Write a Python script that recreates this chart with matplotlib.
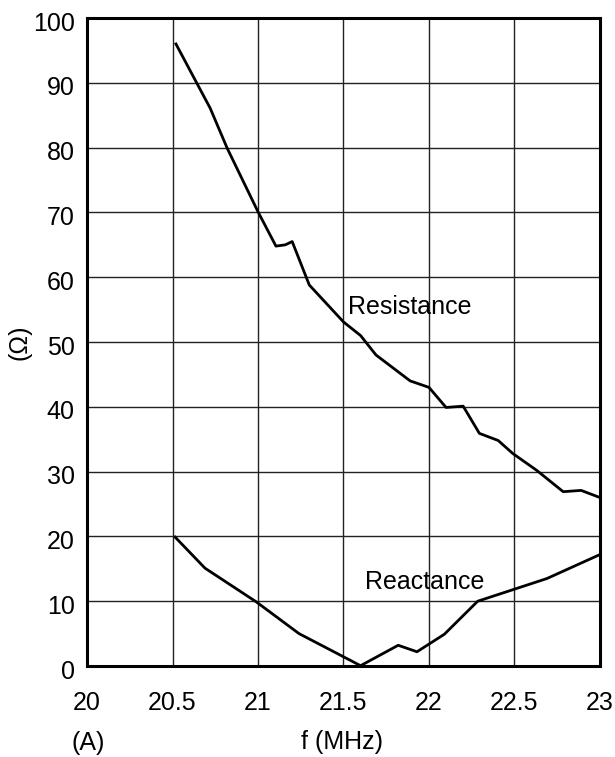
import matplotlib
matplotlib.use("Agg")
import matplotlib.pyplot as plt
import matplotlib.transforms as mtransforms

plt.rcParams["font.family"] = ["Liberation Sans", "DejaVu Sans"]

# resistance curve
res_f = [20.52, 20.72, 20.82, 21.0, 21.105, 21.16, 21.2, 21.3, 21.5, 21.6,
         21.69, 21.89, 22.0, 22.1, 22.2, 22.295, 22.405, 22.49, 22.63, 22.785, 22.89, 23.0]
res_ohm = [96.0, 86.1, 79.9, 70.1, 64.8, 65.0, 65.5, 58.8, 53.1, 51.0,
           48.0, 44.0, 43.0, 39.9, 40.1, 35.9, 34.8, 32.8, 30.2, 26.9, 27.1, 26.0]

# reactance curve
rea_f = [20.515, 20.69, 20.99, 21.24, 21.6, 21.82, 21.93, 22.09, 22.285, 22.69, 23.0]
rea_ohm = [19.9, 15.1, 9.9, 5.0, 0.05, 3.2, 2.2, 4.9, 10.0, 13.5, 17.2]

xticks = [20, 20.5, 21, 21.5, 22, 22.5, 23]
xlabels = ["20", "20.5", "21", "21.5", "22", "22.5", "23"]
yticks = [0, 10, 20, 30, 40, 50, 60, 70, 80, 90, 100]

fig = plt.figure(figsize=(6.15, 7.57), dpi=100)
ax = fig.add_axes([0.1415, 0.1202, 0.834, 0.856])

ax.plot(res_f, res_ohm, color="black", lw=2)
ax.plot(rea_f, rea_ohm, color="black", lw=2)

ax.set_xlim(20, 23)
ax.set_ylim(0, 100)
ax.set_xticks(xticks)
ax.set_xticklabels(xlabels)
ax.set_yticks(yticks)
ax.grid(True, color="#222222", lw=1)
ax.tick_params(length=0, labelsize=18)
ax.tick_params(axis="x", pad=18)
ax.tick_params(axis="y", pad=9)
for s in ax.spines.values():
    s.set_linewidth(2.2)

# y tick labels sit a little below their grid lines in the original
shift = mtransforms.ScaledTranslation(0, -3 / 100, fig.dpi_scale_trans)
for lab in ax.get_yticklabels():
    lab.set_transform(lab.get_transform() + shift)

ax.text(21.526, 55.4, "Resistance", fontsize=18, ha="left", va="center")
ax.text(21.626, 13.0, "Reactance", fontsize=18, ha="left", va="center")

ax.set_ylabel("(\u03a9)", fontsize=18, labelpad=1)
fig.text(342 / 615, 1 - 742 / 757, "f (MHz)", fontsize=18, ha="center", va="center")
fig.text(88 / 615, 1 - 743 / 757, "(A)", fontsize=18, ha="center", va="center")

fig.savefig("out.png", dpi=100)
